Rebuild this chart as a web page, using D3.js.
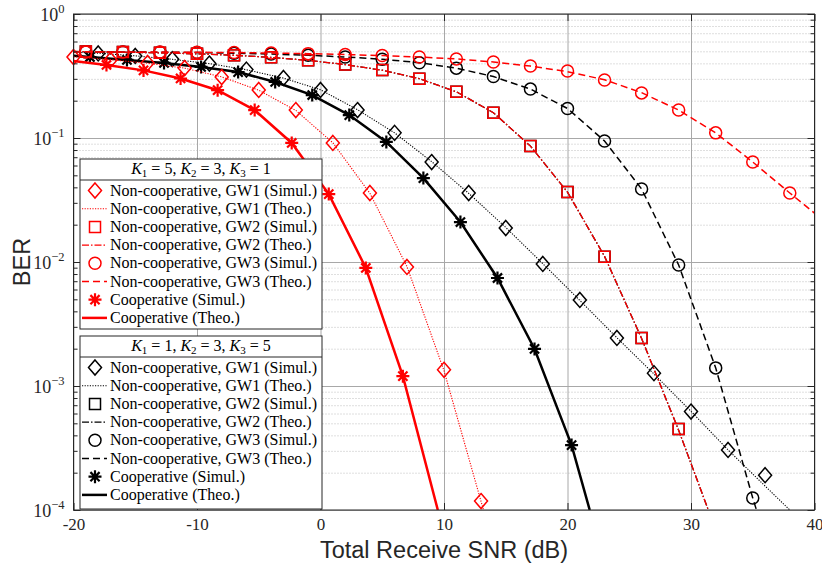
<!DOCTYPE html>
<html>
<head>
<meta charset="utf-8">
<script src="https://cdn.jsdelivr.net/npm/d3@7"></script>
<style>
  body { margin: 0; background: #fff; }
  svg { display: block; }
</style>
</head>
<body>
<script>
// ---- values ----
const snrTicks = [-20, -10, 0, 10, 20, 30, 40];
const berDecades = [1e-4, 1e-3, 1e-2, 1e-1, 1];
const berMinor = [2e-4,3e-4,4e-4,5e-4,6e-4,7e-4,8e-4,9e-4,
                  2e-3,3e-3,4e-3,5e-3,6e-3,7e-3,8e-3,9e-3,
                  2e-2,3e-2,4e-2,5e-2,6e-2,7e-2,8e-2,9e-2,
                  0.2,0.3,0.4,0.5,0.6,0.7,0.8,0.9];

// K1 = 5, K2 = 3, K3 = 1 (red)
const snrGW1a = [-20, -17, -14, -11, -8, -5, -2, 1, 4, 7, 10, 13];
const berGW1aSim = [0.450, 0.426, 0.403, 0.367, 0.310, 0.244, 0.168, 0.0912, 0.0360, 0.00912, 0.00135, 0.000118];
const snrGW1aTheo = [-20, -17, -14, -11, -8, -5, -2, 1, 4, 7, 10, 13, 13.2];
const berGW1aTheo = [0.452, 0.428, 0.401, 0.366, 0.311, 0.243, 0.167, 0.0915, 0.0358, 0.0092, 0.00133, 0.000117, 0.0001];

const snrGW2 = [-19, -16, -13, -10, -7, -4, -1, 2, 5, 8, 11, 14, 17, 20, 23, 26, 29];
const berGW2Sim = [0.498, 0.493, 0.486, 0.478, 0.465, 0.447, 0.423, 0.392, 0.353, 0.301, 0.236, 0.160, 0.0861, 0.0367, 0.0110, 0.00244, 0.00045];
const snrGW2Theo = [-20, -19, -16, -13, -10, -7, -4, -1, 2, 5, 8, 11, 14, 17, 20, 23, 26, 29, 31.4];
const berGW2Theo = [0.499, 0.497, 0.492, 0.486, 0.477, 0.465, 0.447, 0.423, 0.391, 0.352, 0.301, 0.236, 0.160, 0.0860, 0.0366, 0.0111, 0.00242, 0.00044, 0.0001];

const snrGW3 = [-19, -16, -13, -10, -7, -4, -1, 2, 5, 8, 11, 14, 17, 20, 23, 26, 29, 32, 35, 38];
const berGW3aSim = [0.494, 0.494, 0.494, 0.492, 0.490, 0.484, 0.479, 0.471, 0.462, 0.450, 0.434, 0.410, 0.381, 0.347, 0.294, 0.231, 0.168, 0.110, 0.064, 0.036];
const snrGW3aTheo = [-20, -19, -16, -13, -10, -7, -4, -1, 2, 5, 8, 11, 14, 17, 20, 23, 26, 29, 32, 35, 38, 40];
const berGW3aTheo = [0.495, 0.495, 0.494, 0.493, 0.491, 0.489, 0.484, 0.479, 0.471, 0.462, 0.450, 0.434, 0.410, 0.380, 0.343, 0.295, 0.232, 0.168, 0.110, 0.064, 0.036, 0.0248];

const snrCoopA = [-17.33, -14.33, -11.33, -8.33, -5.33, -2.33, 0.67, 3.67, 6.67];
const berCoopASim = [0.388, 0.351, 0.302, 0.243, 0.168, 0.0912, 0.0353, 0.00895, 0.00120];
const snrCoopATheo = [-20, -17.33, -14.33, -11.33, -8.33, -5.33, -2.33, 0.67, 3.67, 6.67, 9.5];
const berCoopATheo = [0.418, 0.388, 0.351, 0.302, 0.243, 0.168, 0.0912, 0.0353, 0.00895, 0.00120, 0.0001];

// K1 = 1, K2 = 3, K3 = 5 (black)
const snrGW1b = [-18, -15, -12, -9, -6, -3, 0, 3, 6, 9, 12, 15, 18, 21, 24, 27, 30, 33, 36];
const berGW1bSim = [0.481, 0.459, 0.432, 0.398, 0.356, 0.305, 0.244, 0.168, 0.110, 0.0640, 0.0360, 0.0188, 0.00964, 0.00494, 0.00244, 0.00127, 0.000622, 0.000305, 0.000191];
const snrGW1bTheo = [-20, -18, -15, -12, -9, -6, -3, 0, 3, 6, 9, 12, 15, 18, 21, 24, 27, 30, 33, 36, 38];
const berGW1bTheo = [0.493, 0.483, 0.460, 0.431, 0.398, 0.355, 0.304, 0.245, 0.169, 0.110, 0.0645, 0.0358, 0.0190, 0.0097, 0.0049, 0.00245, 0.00125, 0.000625, 0.000305, 0.000156, 0.0001];

const snrGW3b = [-19, -16, -13, -10, -7, -4, -1, 2, 5, 8, 11, 14, 17, 20, 23, 26, 29, 32, 35];
const berGW3bSim = [0.495, 0.494, 0.492, 0.489, 0.483, 0.475, 0.465, 0.450, 0.432, 0.405, 0.366, 0.313, 0.248, 0.173, 0.0946, 0.0388, 0.00946, 0.0014, 0.000125];
const snrGW3bTheo = [-20, -19, -16, -13, -10, -7, -4, -1, 2, 5, 8, 11, 14, 17, 20, 23, 26, 29, 32, 35, 35.3];
const berGW3bTheo = [0.496, 0.495, 0.494, 0.492, 0.489, 0.483, 0.475, 0.465, 0.450, 0.432, 0.405, 0.366, 0.313, 0.248, 0.173, 0.0946, 0.0388, 0.00946, 0.0014, 0.000125, 0.0001];

const snrCoopB = [-18.67, -15.67, -12.67, -9.67, -6.67, -3.67, -0.67, 2.33, 5.33, 8.33, 11.33, 14.33, 17.33, 20.33];
const berCoopBSim = [0.450, 0.426, 0.403, 0.374, 0.340, 0.283, 0.222, 0.153, 0.0929, 0.0475, 0.0210, 0.00743, 0.00199, 0.000334];
const snrCoopBTheo = [-20, -18.67, -15.67, -12.67, -9.67, -6.67, -3.67, -0.67, 2.33, 5.33, 8.33, 11.33, 14.33, 17.33, 20.33, 21.8];
const berCoopBTheo = [0.46, 0.450, 0.426, 0.403, 0.374, 0.340, 0.283, 0.222, 0.153, 0.0929, 0.0475, 0.0210, 0.00743, 0.00199, 0.000334, 0.0001];

const legendLabels = ["Non-cooperative, GW1 (Simul.)", "Non-cooperative, GW1 (Theo.)",
                      "Non-cooperative, GW2 (Simul.)", "Non-cooperative, GW2 (Theo.)",
                      "Non-cooperative, GW3 (Simul.)", "Non-cooperative, GW3 (Theo.)",
                      "Cooperative (Simul.)", "Cooperative (Theo.)"];

// ---- styles ----
const RED = "#ff0000", BLACK = "#000000";
const lineStyles = {
  gw1: {dash: "1.2,1.4", width: 1.1},
  gw2: {dash: "7,2,1.5,2", width: 1.3},
  gw3: {dash: "7,4", width: 1.5},
  coop: {dash: null, width: 2.5}
};

const width = 822, height = 567;
const plotL = 73.5, plotR = 814.5, plotT = 14, plotB = 510;

const svg = d3.select("body").append("svg")
  .attr("width", width)
  .attr("height", height);

const x = d3.scaleLinear().domain([-20, 40]).range([plotL, plotR]);
const y = d3.scaleLog().domain([1e-4, 1]).range([plotB, plotT]);

// minor grid (dotted)
svg.append("g")
  .attr("transform", `translate(${plotL},0)`)
  .call(d3.axisLeft(y).tickValues(berMinor).tickSize(-(plotR - plotL)).tickFormat(""))
  .call(g => g.select(".domain").remove())
  .selectAll("line")
  .attr("stroke", "#bdbdbd")
  .attr("stroke-dasharray", "1,2");

// major grid
svg.append("g")
  .attr("transform", `translate(${plotL},0)`)
  .call(d3.axisLeft(y).tickValues(berDecades).tickSize(-(plotR - plotL)).tickFormat(""))
  .call(g => g.select(".domain").remove())
  .selectAll("line")
  .attr("stroke", "#a8a8a8");

svg.append("g")
  .attr("transform", `translate(0,${plotB})`)
  .call(d3.axisBottom(x).tickValues(snrTicks).tickSize(-(plotB - plotT)).tickFormat(""))
  .call(g => g.select(".domain").remove())
  .selectAll("line")
  .attr("stroke", "#a8a8a8");

// clip for curves
svg.append("clipPath").attr("id", "plotclip")
  .append("rect")
  .attr("x", plotL).attr("y", plotT)
  .attr("width", plotR - plotL).attr("height", plotB - plotT);

function markerPath(type, cx, cy) {
  if (type === "diamond") {
    return `M${cx},${cy - 7.5}L${cx + 6.5},${cy}L${cx},${cy + 7.5}L${cx - 6.5},${cy}Z`;
  }
  if (type === "square") {
    return `M${cx - 5.5},${cy - 5.5}h11v11h-11Z`;
  }
  if (type === "circle") {
    return `M${cx + 6},${cy}A6,6 0 1,1 ${cx - 6},${cy}A6,6 0 1,1 ${cx + 6},${cy}Z`;
  }
  // asterisk: + and x together
  const r = 6.5, q = 4.6;
  return `M${cx - r},${cy}H${cx + r}M${cx},${cy - r}V${cy + r}` +
    `M${cx - q},${cy - q}L${cx + q},${cy + q}M${cx - q},${cy + q}L${cx + q},${cy - q}`;
}

const line = d3.line()
  .x(d => x(d[0]))
  .y(d => y(d[1]));

function drawTheory(xs, ys, color, style) {
  svg.append("path")
    .datum(d3.zip(xs, ys))
    .attr("clip-path", "url(#plotclip)")
    .attr("fill", "none")
    .attr("stroke", color)
    .attr("stroke-width", lineStyles[style].width)
    .attr("stroke-dasharray", lineStyles[style].dash)
    .attr("d", line);
}

function drawSim(xs, ys, color, type) {
  svg.append("g")
    .selectAll("path")
    .data(d3.zip(xs, ys))
    .join("path")
    .attr("fill", "none")
    .attr("stroke", color)
    .attr("stroke-width", type === "asterisk" ? 2.2 : 1.5)
    .attr("d", d => markerPath(type, x(d[0]), y(d[1])));
}

// black set (K1=1, K2=3, K3=5)
drawTheory(snrGW1bTheo, berGW1bTheo, BLACK, "gw1");
drawTheory(snrGW2Theo, berGW2Theo, BLACK, "gw2");
drawTheory(snrGW3bTheo, berGW3bTheo, BLACK, "gw3");
drawTheory(snrCoopBTheo, berCoopBTheo, BLACK, "coop");
drawSim(snrGW1b, berGW1bSim, BLACK, "diamond");
drawSim(snrGW2, berGW2Sim, BLACK, "square");
drawSim(snrGW3b, berGW3bSim, BLACK, "circle");
drawSim(snrCoopB, berCoopBSim, BLACK, "asterisk");

// red set (K1=5, K2=3, K3=1)
drawTheory(snrGW1aTheo, berGW1aTheo, RED, "gw1");
drawTheory(snrGW2Theo, berGW2Theo, RED, "gw2");
drawTheory(snrGW3aTheo, berGW3aTheo, RED, "gw3");
drawTheory(snrCoopATheo, berCoopATheo, RED, "coop");
drawSim(snrGW1a, berGW1aSim, RED, "diamond");
drawSim(snrGW2, berGW2Sim, RED, "square");
drawSim(snrGW3, berGW3aSim, RED, "circle");
drawSim(snrCoopA, berCoopASim, RED, "asterisk");

// ---- axes box and inward ticks ----
const axisColor = "#262626";
function styleAxis(g) {
  g.select(".domain").remove();
  g.selectAll("line").attr("stroke", axisColor);
}

svg.append("g").attr("transform", `translate(0,${plotB})`)
  .call(d3.axisBottom(x).tickValues(snrTicks).tickSize(-7).tickPadding(8)
    .tickFormat(d => String(d)))
  .call(styleAxis)
  .selectAll("text")
  .attr("font-family", "'Liberation Serif', serif")
  .attr("font-size", 17)
  .attr("fill", axisColor);

svg.append("g").attr("transform", `translate(0,${plotT})`)
  .call(d3.axisTop(x).tickValues(snrTicks).tickSize(-7).tickFormat(""))
  .call(styleAxis);

[[plotL, d3.axisLeft], [plotR, d3.axisRight]].forEach(([pos, axisFn]) => {
  svg.append("g").attr("transform", `translate(${pos},0)`)
    .call(axisFn(y).tickValues(berMinor).tickSize(-4).tickFormat(""))
    .call(styleAxis);
  svg.append("g").attr("transform", `translate(${pos},0)`)
    .call(axisFn(y).tickValues(berDecades).tickSize(-7).tickFormat(""))
    .call(styleAxis);
});

// y tick labels 10^k
const yLab = svg.append("g").attr("transform", `translate(${plotL},0)`)
  .call(d3.axisLeft(y).tickValues(berDecades).tickSize(0).tickPadding(9)
    .tickFormat(d => ""))
  .call(g => g.select(".domain").remove());
yLab.selectAll("text")
  .attr("font-family", "'Liberation Serif', serif")
  .attr("font-size", 18)
  .attr("fill", axisColor)
  .attr("dy", "0.35em")
  .each(function(d) {
    const t = d3.select(this);
    t.append("tspan").text("10");
    const e = Math.round(Math.log10(d));
    t.append("tspan")
      .attr("font-size", 12.5)
      .attr("dy", -7.5)
      .text(e < 0 ? "\u2212" + (-e) : String(e));
  });

svg.append("rect")
  .attr("x", plotL).attr("y", plotT)
  .attr("width", plotR - plotL).attr("height", plotB - plotT)
  .attr("fill", "none")
  .attr("stroke", axisColor)
  .attr("stroke-width", 1);

// axis titles
svg.append("text")
  .attr("x", (plotL + plotR) / 2)
  .attr("y", 558)
  .attr("text-anchor", "middle")
  .attr("font-family", "'Liberation Sans', Arial, sans-serif")
  .attr("font-size", 23.5)
  .attr("fill", axisColor)
  .text("Total Receive SNR (dB)");

svg.append("text")
  .attr("transform", `translate(30,${(plotT + plotB) / 2}) rotate(-90)`)
  .attr("text-anchor", "middle")
  .attr("font-family", "'Liberation Sans', Arial, sans-serif")
  .attr("font-size", 23.5)
  .attr("fill", axisColor)
  .text("BER");

// ---- legends ----
function drawLegend(boxTop, boxHeight, headerVals, color) {
  const lg = svg.append("g");
  const bx = 80, bw = 242, headerH = 21;
  lg.append("rect")
    .attr("x", bx).attr("y", boxTop)
    .attr("width", bw).attr("height", boxHeight)
    .attr("fill", "#fff")
    .attr("stroke", axisColor);
  lg.append("line")
    .attr("x1", bx).attr("x2", bx + bw)
    .attr("y1", boxTop + headerH).attr("y2", boxTop + headerH)
    .attr("stroke", axisColor);

  const head = lg.append("text")
    .attr("x", bx + bw / 2)
    .attr("y", boxTop + 15)
    .attr("text-anchor", "middle")
    .attr("font-family", "'Liberation Serif', serif")
    .attr("font-size", 16)
    .attr("fill", "#000");
  headerVals.forEach((v, i) => {
    head.append("tspan").attr("font-style", "italic").text("K");
    head.append("tspan").attr("font-size", 11).attr("dy", 3).text(String(i + 1));
    head.append("tspan").attr("dy", -3)
      .text(" = " + v + (i < headerVals.length - 1 ? ", " : ""));
  });

  const kinds = ["diamond", "gw1", "square", "gw2", "circle", "gw3", "asterisk", "coop"];
  kinds.forEach((k, i) => {
    const ry = boxTop + headerH + 10.5 + i * 18.2;
    if (lineStyles[k]) {
      lg.append("line")
        .attr("x1", 82).attr("x2", 107)
        .attr("y1", ry).attr("y2", ry)
        .attr("stroke", color)
        .attr("stroke-width", lineStyles[k].width)
        .attr("stroke-dasharray", lineStyles[k].dash);
    } else {
      lg.append("path")
        .attr("fill", "none")
        .attr("stroke", color)
        .attr("stroke-width", k === "asterisk" ? 2.2 : 1.5)
        .attr("d", markerPath(k, 95, ry));
    }
    lg.append("text")
      .attr("x", 110)
      .attr("y", ry + 5)
      .attr("font-family", "'Liberation Serif', serif")
      .attr("font-size", 16)
      .attr("fill", "#000")
      .text(legendLabels[i]);
  });
}

drawLegend(159, 170, [5, 3, 1], RED);
drawLegend(336, 173, [1, 3, 5], BLACK);
</script>
</body>
</html>
